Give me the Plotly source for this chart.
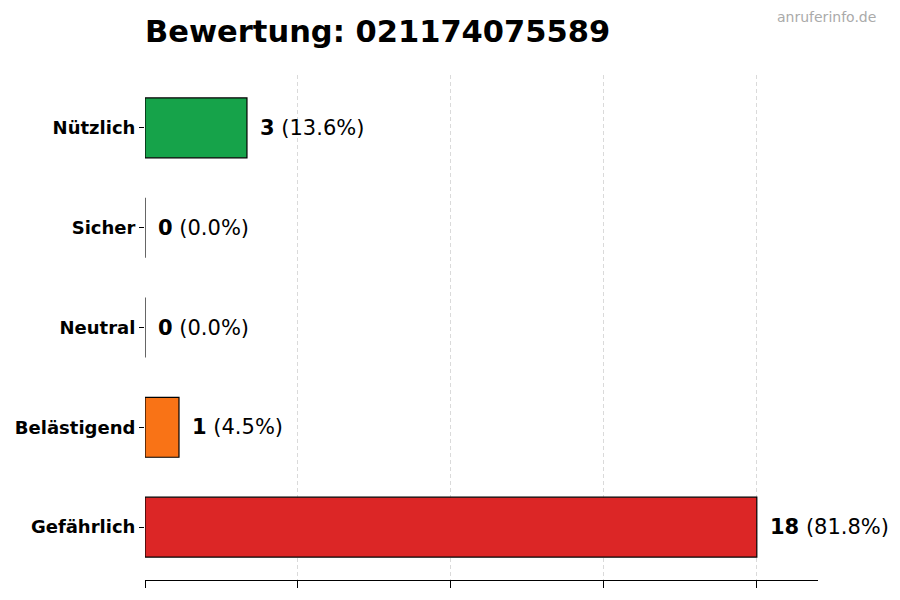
import plotly.graph_objects as go

# categories bottom -> top as plotted
categories = ["Gefährlich", "Belästigend", "Neutral", "Sicher", "Nützlich"]
counts = [18, 1, 0, 0, 3]
colors = ["#dc2626", "#f97316", "#6b7280", "#2563eb", "#16a34a"]
tick_vals = [0, 4.5, 9, 13.5, 18]

total = sum(counts)
percents = [c / total * 100 for c in counts]

fig = go.Figure()
fig.add_trace(go.Bar(
    x=counts,
    y=categories,
    orientation="h",
    width=0.6,
    marker=dict(color=colors, line=dict(color="black", width=1.2)),
    hoverinfo="skip",
))

# value labels next to the bars
for c, cat, p in zip(counts, categories, percents):
    fig.add_annotation(
        x=c, y=cat, xref="x", yref="y",
        text=f"<b>{c}</b> ({p:.1f}%)",
        showarrow=False, xanchor="left", xshift=11,
        font=dict(size=21, color="black", family="DejaVu Sans"),
    )

# watermark top right
fig.add_annotation(
    x=1.089, y=1.115, xref="paper", yref="paper",
    text="anruferinfo.de", showarrow=False,
    xanchor="right", yanchor="middle",
    font=dict(size=14, color="#aaaaaa", family="DejaVu Sans"),
)

fig.update_layout(
    width=900, height=600,
    margin=dict(l=137, r=90, t=67, b=28),
    plot_bgcolor="white", paper_bgcolor="white",
    font=dict(family="DejaVu Sans", color="black"),
    title=dict(
        text="<b>Bewertung: 021174075589</b>",
        x=137 / 900, xanchor="left", y=1 - 23 / 600, yanchor="middle",
        font=dict(size=30.5, color="black"),
    ),
    showlegend=False,
)
fig.update_xaxes(
    range=[0, 19.8], tickvals=tick_vals, showticklabels=False,
    ticks="outside", ticklen=7, tickcolor="black", automargin=False,
    showgrid=True, gridcolor="#dadada", griddash="4px,3px", gridwidth=1,
    zeroline=False, showline=True, linecolor="black", linewidth=1.2,
)
fig.update_yaxes(
    range=[-0.53, 4.53], ticks="outside", ticklen=5, tickcolor="black",
    tickvals=categories, ticktext=[f"<b>{c}</b>" for c in categories],
    tickfont=dict(size=18, color="black", family="DejaVu Sans"),
    ticklabelstandoff=0, automargin=False,
    showgrid=False, zeroline=False, showline=False,
)

fig.write_html("out.html")
